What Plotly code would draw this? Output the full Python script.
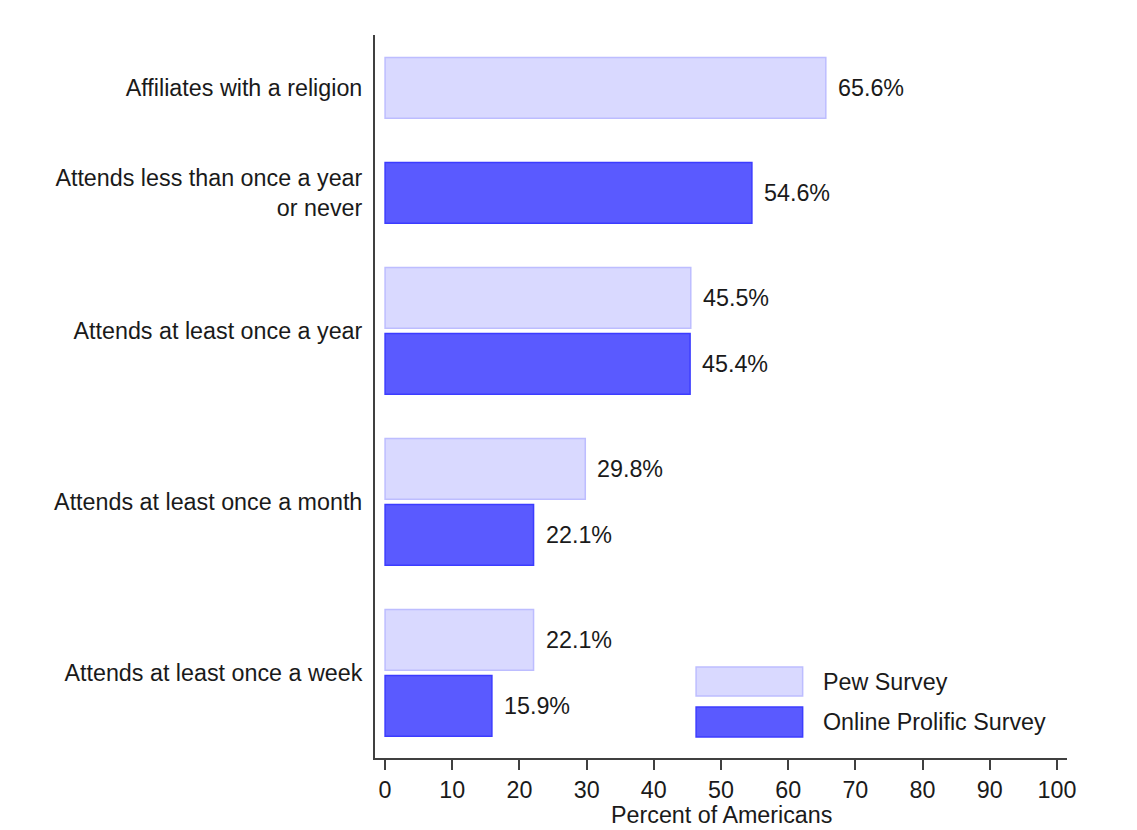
import plotly.graph_objects as go

# ---- data ----
categories = [
    "Affiliates with a religion",
    "Attends less than once a year<br>or never",
    "Attends at least once a year",
    "Attends at least once a month",
    "Attends at least once a week",
]
pew_values = [65.6, None, 45.5, 29.8, 22.1]
prolific_values = [None, 54.6, 45.4, 22.1, 15.9]
series_names = ["Pew Survey", "Online Prolific Survey"]
x_ticks = [0, 10, 20, 30, 40, 50, 60, 70, 80, 90, 100]
x_title = "Percent of Americans"

# ---- styling ----
FONT = "Liberation Sans, Arial, sans-serif"
FS = 23.3
TXT = "#1a1a1a"
fills = ["#d9d9ff", "#5a5aff"]
borders = ["#bdbdff", "#3c3cff"]
BAR_PITCH = 1.0
GROUP_STEP = 1.59
BAR_W = 0.92

# compute vertical layout positions from the grouping
series = [pew_values, prolific_values]
pos = [[None] * len(categories) for _ in series]
centers = []
cursor = 0.0
for gi in range(len(categories)):
    present = [si for si in range(len(series)) if series[si][gi] is not None]
    ps = []
    for k, si in enumerate(present):
        p = cursor + k * BAR_PITCH
        pos[si][gi] = p
        ps.append(p)
    centers.append(sum(ps) / len(ps))
    cursor = ps[-1] + GROUP_STEP

fig = go.Figure()
annotations = []
for si, vals in enumerate(series):
    ys = [pos[si][i] for i in range(len(vals)) if vals[i] is not None]
    xs = [v for v in vals if v is not None]
    fig.add_trace(go.Bar(
        x=xs, y=ys, orientation="h", width=BAR_W, name=series_names[si],
        marker=dict(color=fills[si], line=dict(color=borders[si], width=1.5)),
        showlegend=False, hoverinfo="x+name",
    ))
    for x, y in zip(xs, ys):
        annotations.append(dict(
            x=x, y=y, xref="x", yref="y", text=f"{x:.1f}%", showarrow=False,
            xanchor="left", yanchor="middle", xshift=10,
            font=dict(family=FONT, size=FS, color=TXT),
        ))

# manual legend (paper coordinates)
shapes = []
leg_rects = [(0.1259, 0.0858), (0.0705, 0.0290)]
leg_text_y = [0.105, 0.050]
for si in range(2):
    y0, y1 = leg_rects[si]
    shapes.append(dict(type="rect", xref="paper", yref="paper",
                       x0=0.464, x1=0.618, y0=y1, y1=y0,
                       fillcolor=fills[si], line=dict(color=borders[si], width=1.5)))
    annotations.append(dict(x=0.644, y=leg_text_y[si], xref="paper", yref="paper",
                            text=series_names[si], showarrow=False,
                            xanchor="left", yanchor="middle",
                            font=dict(family=FONT, size=FS, color=TXT)))

# x-axis title as annotation below tick labels
annotations.append(dict(x=0.5, y=-0.079, xref="paper", yref="paper", text=x_title,
                        showarrow=False, xanchor="center", yanchor="middle",
                        font=dict(family=FONT, size=FS, color=TXT)))

fig.update_layout(
    width=1137, height=830,
    margin=dict(l=375, r=70, t=35, b=72),
    paper_bgcolor="white", plot_bgcolor="white",
    font=dict(family=FONT, size=FS, color=TXT),
    barmode="overlay",
    annotations=annotations, shapes=shapes,
    xaxis=dict(
        range=[-1.5, 101.5], tickvals=x_ticks, ticktext=[str(t) for t in x_ticks],
        showgrid=False, zeroline=False, showline=True, linecolor="#404040", linewidth=2,
        ticks="outside", ticklen=10, tickwidth=2, tickcolor="#404040",
        tickfont=dict(family=FONT, size=FS, color=TXT),
        automargin=False,
    ),
    yaxis=dict(
        range=[10.15, -0.80], tickvals=centers, ticktext=categories,
        showgrid=False, zeroline=False, showline=True, linecolor="#404040", linewidth=2,
        ticks="", ticklabelstandoff=6, automargin=False,
        tickfont=dict(family=FONT, size=FS, color=TXT),
    ),
)

fig.write_html(
    "out.html",
    config={"displayModeBar": False},
    post_script="document.body.style.margin='0px';document.body.style.overflow='hidden';",
)
